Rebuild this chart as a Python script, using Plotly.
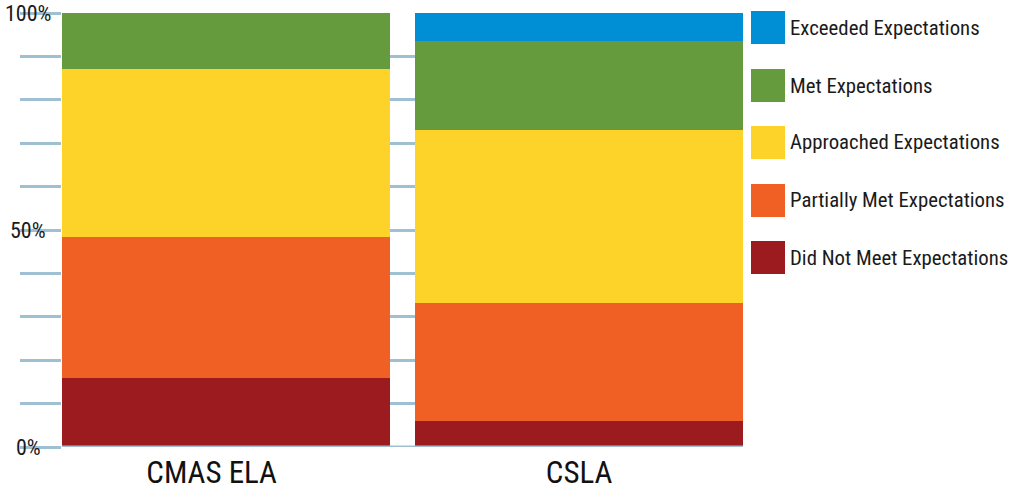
import plotly.graph_objects as go

categories = ["CMAS ELA", "CSLA"]
x_tick_labels = ["CMAS ELA\u00a0\u00a0\u00a0\u00a0", "CSLA"]
series_names = ["Did Not Meet Expectations", "Partially Met Expectations",
                "Approached Expectations", "Met Expectations", "Exceeded Expectations"]
did_not_meet = [16.0, 6.0]
partially_met = [32.5, 27.2]
approached = [38.6, 39.8]
met = [12.9, 20.5]
exceeded = [0.0, 6.5]
series_values = [did_not_meet, partially_met, approached, met, exceeded]
colors = ["#9b1b1f", "#f06024", "#fed329", "#659b3c", "#008fd5"]
y_tick_vals = [0, 50, 100]
y_tick_text = ["0%", "50%", "100%"]

FONT = "Roboto Condensed, Liberation Sans Narrow, DejaVu Sans Condensed, sans-serif"
GRID = "#9fbfd2"
W, H = 1010, 486
L, R, T, B = 62, 267, 13, 39
PW = W - L - R
PH = H - T - B


def px_x(p):
    return (p - L) / PW


def px_y(p):
    return 1 - (p - T) / PH


fig = go.Figure()
for name, vals, col in zip(series_names, series_values, colors):
    fig.add_trace(go.Bar(x=categories, y=vals, name=name, marker=dict(color=col, line=dict(width=0)),
                         width=0.928, showlegend=False, hoverinfo="skip"))

fig.update_layout(
    width=W, height=H, autosize=False,
    margin=dict(l=L, r=R, t=T, b=B, pad=0),
    barmode="stack",
    plot_bgcolor="white", paper_bgcolor="white",
    font=dict(family=FONT, color="#1a1a1a"),
    xaxis=dict(range=[-0.464, 1.464], showgrid=False, zeroline=False, showline=False,
               tickvals=categories, ticktext=x_tick_labels,
               ticks="", ticklabelstandoff=4, automargin=False,
               tickfont=dict(size=31, family=FONT, color="#111111")),
    yaxis=dict(range=[0, 100], tickvals=y_tick_vals, ticktext=["", "", ""], automargin=False,
               ticks="outside", ticklen=16, tickwidth=3, tickcolor=GRID,
               showgrid=True, gridcolor=GRID, gridwidth=3, zeroline=False,
               minor=dict(dtick=10, tick0=0, ticks="outside", ticklen=41, tickwidth=3,
                          tickcolor=GRID, showgrid=True, gridcolor=GRID, gridwidth=3)),
)

# zero line drawn over bars
fig.add_shape(type="line", xref="paper", yref="y", x0=0, x1=1, y0=0, y1=0,
              line=dict(color=GRID, width=3), layer="above")

# y tick labels (centered)
for v, t in zip(y_tick_vals, y_tick_text):
    fig.add_annotation(x=px_x(28), xref="paper", y=v, yref="y", text=t, showarrow=False,
                       xanchor="center", yanchor="middle",
                       font=dict(size=22, family=FONT, color="#1a1a1a"))

# legend (top to bottom: reverse order)
legend_top = [11, 69, 126, 184, 241]
for i, (name, col) in enumerate(zip(series_names[::-1], colors[::-1])):
    y0 = legend_top[i]
    fig.add_shape(type="rect", xref="paper", yref="paper",
                  x0=px_x(751), x1=px_x(785), y0=px_y(y0 + 33), y1=px_y(y0),
                  fillcolor=col, line=dict(width=0))
    fig.add_annotation(x=px_x(788), xref="paper", y=px_y(y0 + 16.5), yref="paper",
                       text=name, showarrow=False, xanchor="left", yanchor="middle",
                       font=dict(size=20.8, family=FONT, color="#1a1a1a"))

post = "document.body.style.margin='0';"
fig.write_html("out.html", config={"displayModeBar": False}, post_script=post)
